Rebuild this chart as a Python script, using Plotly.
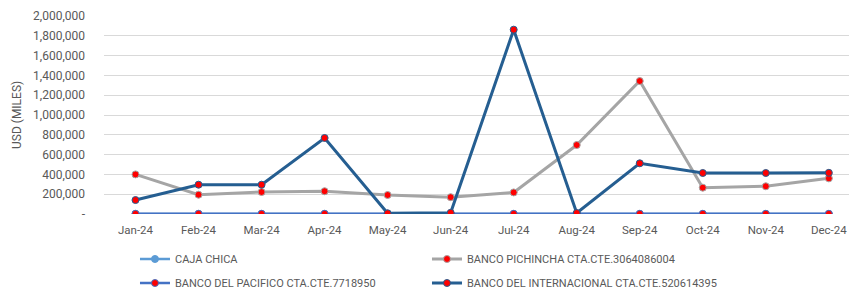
import plotly.graph_objects as go

months = ["Jan-24", "Feb-24", "Mar-24", "Apr-24", "May-24", "Jun-24",
          "Jul-24", "Aug-24", "Sep-24", "Oct-24", "Nov-24", "Dec-24"]

caja_chica = [500, 500, 500, 500, 500, 500, 500, 500, 500, 500, 500, 500]
pichincha = [400000, 195000, 222000, 230000, 192000, 170000,
             218000, 697000, 1343000, 266000, 280000, 360000]
pacifico = [2000, 2000, 2000, 2000, 2000, 2000, 2000, 2000, 2000, 2000, 2000, 2000]
internacional = [141000, 296000, 296000, 768000, 7000, 12000,
                 1862000, 10000, 512000, 414000, 414000, 416000]

y_tickvals = [0, 200000, 400000, 600000, 800000, 1000000, 1200000,
              1400000, 1600000, 1800000, 2000000]
y_ticktext = ["-", "200,000", "400,000", "600,000", "800,000", "1,000,000",
              "1,200,000", "1,400,000", "1,600,000", "1,800,000", "2,000,000"]

FONT = "Roboto, Open Sans, sans-serif"
GRAY = "#595959"

fig = go.Figure()

fig.add_trace(go.Scatter(
    x=months, y=caja_chica, name="CAJA CHICA", mode="lines+markers",
    line=dict(color="#5B9BD5", width=2.5),
    marker=dict(color="#5B9BD5", size=7, line=dict(color="#5B9BD5", width=1)),
    legend="legend"))
fig.add_trace(go.Scatter(
    x=months, y=pichincha, name="BANCO PICHINCHA CTA.CTE.3064086004", mode="lines+markers",
    line=dict(color="#A5A5A5", width=3),
    marker=dict(color="#FF0000", size=7, line=dict(color="#A5A5A5", width=1)),
    legend="legend"))
fig.add_trace(go.Scatter(
    x=months, y=pacifico, name="BANCO DEL PACIFICO CTA.CTE.7718950", mode="lines+markers",
    line=dict(color="#4472C4", width=2.5),
    marker=dict(color="#FF0000", size=7, line=dict(color="#4472C4", width=1)),
    legend="legend2"))
fig.add_trace(go.Scatter(
    x=months, y=internacional, name="BANCO DEL INTERNACIONAL CTA.CTE.520614395", mode="lines+markers",
    line=dict(color="#255E91", width=3),
    marker=dict(color="#FF0000", size=7, line=dict(color="#255E91", width=1)),
    legend="legend2"))

legend_common = dict(orientation="h", xanchor="left", yanchor="middle",
                     xref="container", yref="container",
                     font=dict(family=FONT, size=11, color=GRAY),
                     entrywidth=247, bgcolor="rgba(0,0,0,0)", itemwidth=30)

fig.update_layout(
    width=849, height=290,
    margin=dict(l=104, r=0, t=16, b=76),
    paper_bgcolor="white", plot_bgcolor="white",
    font=dict(family=FONT, size=12, color=GRAY),
    xaxis=dict(type="category", range=[-0.5, 11.32], showgrid=False,
               showline=False, ticks="", automargin=False,
               ticklabelstandoff=7,
               tickfont=dict(family=FONT, size=11.5, color=GRAY)),
    yaxis=dict(range=[0, 2000000], tickvals=y_tickvals, ticktext=y_ticktext,
               showgrid=True, gridcolor="#D9D9D9", gridwidth=1,
               zeroline=False, showline=False, ticks="", automargin=False,
               ticklabelstandoff=18,
               tickfont=dict(family=FONT, size=12, color=GRAY)),
    legend=dict(x=0.159, y=0.1069, **legend_common),
    legend2=dict(x=0.159, y=0.0241, **legend_common),
    annotations=[dict(text="USD (MILES)", xref="paper", yref="paper",
                      x=-0.1168, y=0.5, xanchor="center", yanchor="middle",
                      textangle=-90, showarrow=False,
                      font=dict(family=FONT, size=12, color=GRAY))],
)

fig.write_html("out.html",
               config={"displayModeBar": False},
               post_script="document.body.style.margin='0px';document.body.style.overflow='hidden';")
